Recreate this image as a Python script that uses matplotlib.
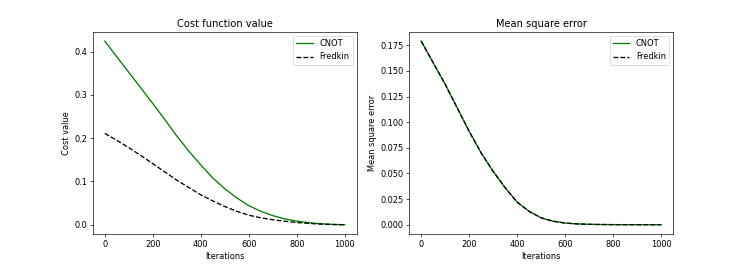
import matplotlib
matplotlib.use("Agg")
import matplotlib.pyplot as plt

iterations = [0, 50, 100, 150, 200, 250, 300, 350, 400, 450, 500,
              550, 600, 650, 700, 750, 800, 850, 900, 950, 1000]

cost_cnot = [0.424, 0.388, 0.352, 0.316, 0.280, 0.243, 0.205, 0.170, 0.138, 0.108, 0.083,
             0.062, 0.044, 0.031, 0.021, 0.0135, 0.0083, 0.0047, 0.0021, 0.0007, 0.0]
cost_fredkin = [0.211, 0.195, 0.178, 0.160, 0.141, 0.122, 0.103, 0.086, 0.069, 0.055, 0.042,
                0.031, 0.022, 0.016, 0.0115, 0.008, 0.0052, 0.003, 0.0015, 0.0005, 0.0]

mse_cnot = [0.179, 0.158, 0.137, 0.114, 0.091, 0.070, 0.052, 0.036, 0.022, 0.013, 0.0067,
            0.0034, 0.0016, 0.0008, 0.0004, 0.0002, 0.0001, 0.00005, 0.00002, 0.00001, 0.0]
mse_fredkin = [0.179, 0.158, 0.137, 0.114, 0.091, 0.070, 0.052, 0.036, 0.022, 0.013, 0.0067,
               0.0034, 0.0016, 0.0008, 0.0004, 0.0002, 0.0001, 0.00005, 0.00002, 0.00001, 0.0]

dpi = 59
fig = plt.figure(figsize=(748 / dpi, 264 / dpi), dpi=dpi)

ax1 = fig.add_axes([0.124, 0.114, 0.353, 0.765])
ax2 = fig.add_axes([0.547, 0.114, 0.353, 0.765])

lw = 1.6
ax1.plot(iterations, cost_cnot, color="green", linestyle="-", linewidth=lw, label="CNOT")
ax1.plot(iterations, cost_fredkin, color="black", linestyle="--", linewidth=lw, label="Fredkin")
ax1.set_title("Cost function value")
ax1.set_xlabel("Iterations")
ax1.set_ylabel("Cost value")
ax1.set_yticks([0.0, 0.1, 0.2, 0.3, 0.4])
ax1.set_xticks([0, 200, 400, 600, 800, 1000])
ax1.legend(loc="upper right")

ax2.plot(iterations, mse_cnot, color="green", linestyle="-", linewidth=lw, label="CNOT")
ax2.plot(iterations, mse_fredkin, color="black", linestyle="--", linewidth=lw, label="Fredkin")
ax2.set_title("Mean square error")
ax2.set_xlabel("Iterations")
ax2.set_ylabel("Mean square error")
ax2.set_yticks([0.0, 0.025, 0.05, 0.075, 0.1, 0.125, 0.15, 0.175])
ax2.set_xticks([0, 200, 400, 600, 800, 1000])
ax2.legend(loc="upper right")

fig.savefig("out.png", dpi=dpi)
